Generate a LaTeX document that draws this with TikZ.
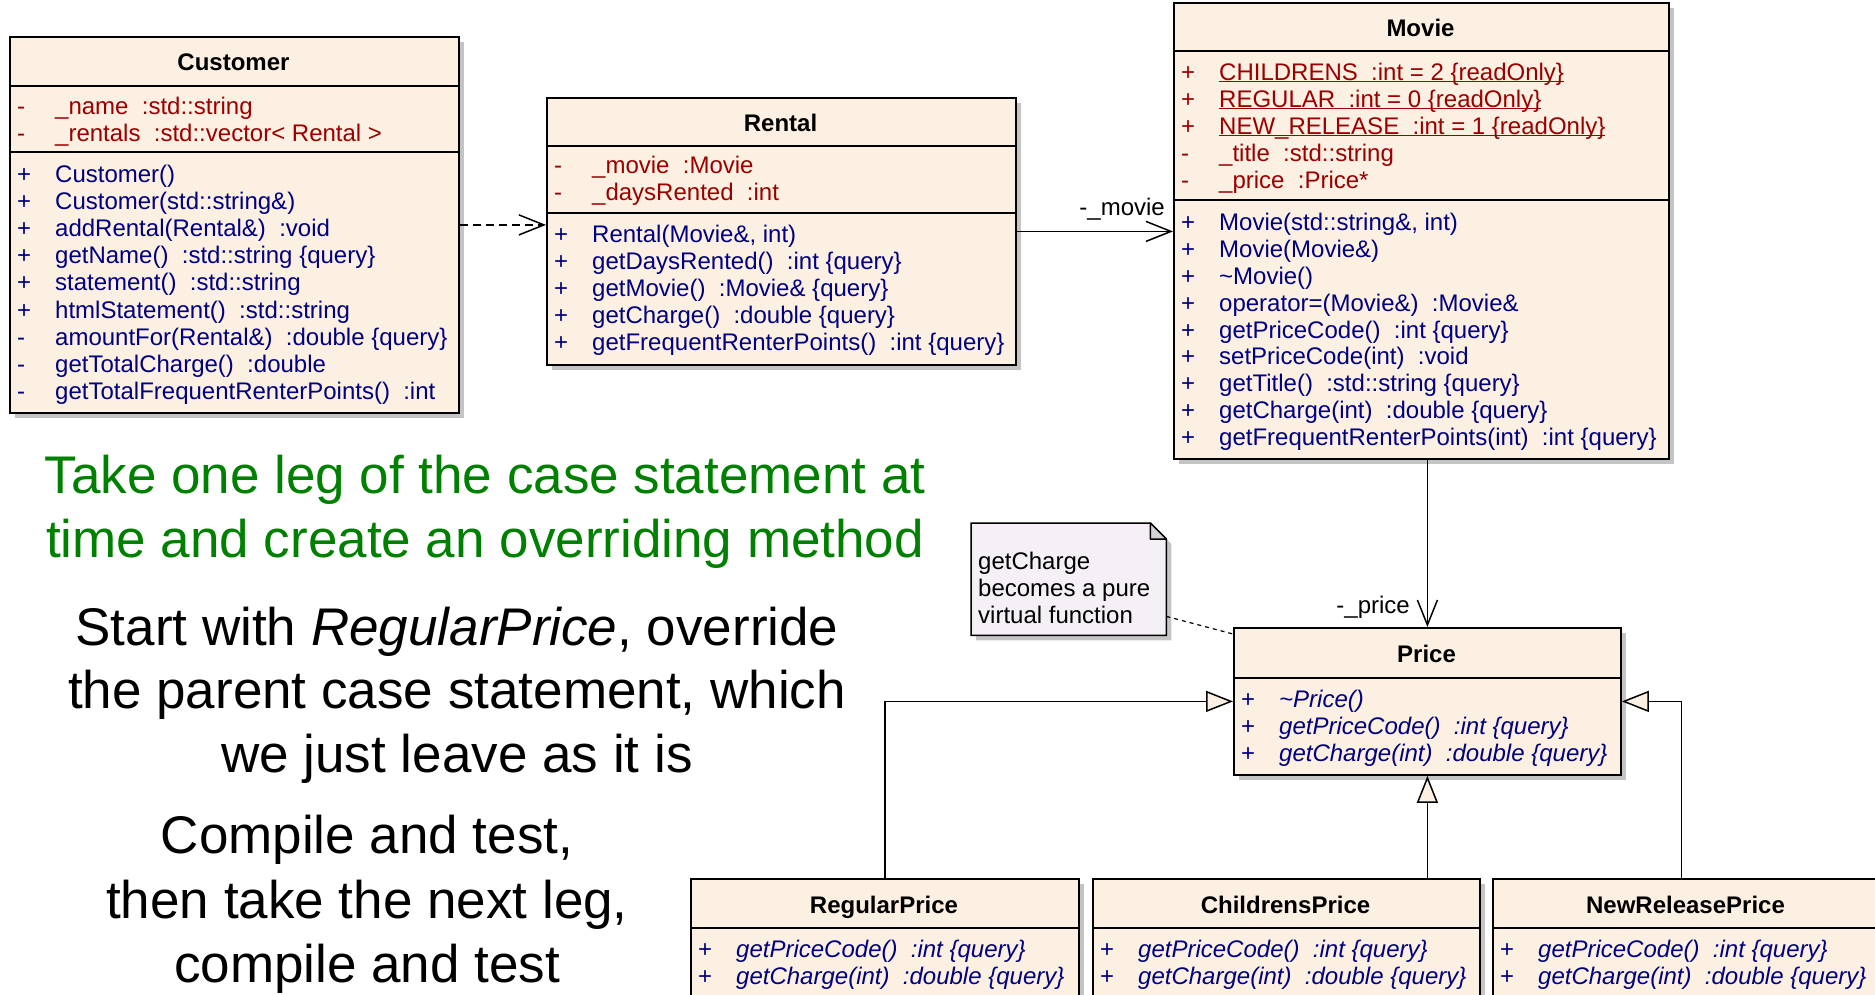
\documentclass[tikz,border=0pt]{standalone}
\usepackage{fontspec}
\setmainfont{Liberation Sans}
\usetikzlibrary{arrows.meta,shadows,calc}

\definecolor{boxfill}{HTML}{FBF0E1}
\definecolor{attrred}{HTML}{9B0000}
\definecolor{opblue}{HTML}{000080}
\definecolor{slidegreen}{HTML}{008000}
\definecolor{shadowgray}{HTML}{C4C4C4}
\definecolor{notefill}{HTML}{F5F0F5}
\definecolor{foldgray}{HTML}{D2CFD6}

\tikzset{
  umlbox/.style={draw=black, line width=1.8pt, fill=boxfill, inner sep=0pt,
    anchor=north west,
    drop shadow={shadow xshift=5pt, shadow yshift=-5pt, fill=shadowgray, opacity=1}},
  compsep/.style={line width=1.8pt},
  rowtext/.style={anchor=base west, inner sep=0pt, font=\fontsize{24}{27}\selectfont},
  attr/.style={rowtext, text=attrred},
  oper/.style={rowtext, text=opblue},
  ctitle/.style={anchor=base, inner sep=0pt, font=\fontsize{24}{27}\selectfont\bfseries},
  lbl/.style={anchor=base east, inner sep=0pt, font=\fontsize{24}{27}\selectfont},
  notetext/.style={anchor=base west, inner sep=0pt, font=\fontsize{24}{27}\selectfont},
  bigtext/.style={anchor=base, inner sep=0pt, font=\fontsize{53}{64}\selectfont},
  link/.style={line width=1.5pt},
  assoc/.style={link, -{Straight Barb[length=25pt,width=20pt]}},
  depend/.style={link, dash pattern=on 8pt off 5pt, -{Straight Barb[length=25pt,width=20pt]}},
  inherit/.style={link, -{Triangle[length=27pt,width=21pt,fill=boxfill]}},
  notelink/.style={line width=1.2pt, dash pattern=on 4pt off 4pt},
}

% one compartment row: style, name, box left, baseline, visibility, member
\newcommand\umlrow[6]{%
  \node[#1] (#2s) at ({#3+8},#4) {#5};
  \node[#1] (#2) at ({#3+46},#4) {#6};}

\begin{document}
\begin{tikzpicture}[x=1pt,y=-1pt]
\useasboundingbox (0,0) rectangle (1875,994);
\fill[white] (0,0) rectangle (1875,994);
\clip (0,0) rectangle (1875,994);

% ---------------- Customer ----------------
\node[umlbox, minimum width=449pt, minimum height=376pt] (customer) at (9,36) {};
\draw[compsep] ([yshift=-50pt]customer.north west) -- ([yshift=-50pt]customer.north east);
\draw[compsep] ([yshift=-116pt]customer.north west) -- ([yshift=-116pt]customer.north east);
\node[ctitle] (customer-t) at (233.5,70) {Customer};
\umlrow{attr}{cu-a1}{9}{114}{-}{\_name~~:std::string}
\umlrow{attr}{cu-a2}{9}{141}{-}{\_rentals~~:std::vector< Rental >}
\umlrow{oper}{cu-o1}{9}{182}{+}{Customer()}
\umlrow{oper}{cu-o2}{9}{209}{+}{Customer(std::string\&)}
\umlrow{oper}{cu-o3}{9}{236}{+}{addRental(Rental\&)~~:void}
\umlrow{oper}{cu-o4}{9}{263}{+}{getName()~~:std::string \{query\}}
\umlrow{oper}{cu-o5}{9}{290}{+}{statement()~~:std::string}
\umlrow{oper}{cu-o6}{9}{318}{+}{htmlStatement()~~:std::string}
\umlrow{oper}{cu-o7}{9}{345}{-}{amountFor(Rental\&)~~:double \{query\}}
\umlrow{oper}{cu-o8}{9}{372}{-}{getTotalCharge()~~:double}
\umlrow{oper}{cu-o9}{9}{399}{-}{getTotalFrequentRenterPoints()~~:int}

% ---------------- Rental ----------------
\node[umlbox, minimum width=469pt, minimum height=267pt] (rental) at (546,97) {};
\draw[compsep] ([yshift=-49pt]rental.north west) -- ([yshift=-49pt]rental.north east);
\draw[compsep] ([yshift=-116pt]rental.north west) -- ([yshift=-116pt]rental.north east);
\node[ctitle] (rental-t) at (780.5,131) {Rental};
\umlrow{attr}{re-a1}{546}{173}{-}{\_movie~~:Movie}
\umlrow{attr}{re-a2}{546}{200}{-}{\_daysRented~~:int}
\umlrow{oper}{re-o1}{546}{242}{+}{Rental(Movie\&, int)}
\umlrow{oper}{re-o2}{546}{269}{+}{getDaysRented()~~:int \{query\}}
\umlrow{oper}{re-o3}{546}{296}{+}{getMovie()~~:Movie\& \{query\}}
\umlrow{oper}{re-o4}{546}{323}{+}{getCharge()~~:double \{query\}}
\umlrow{oper}{re-o5}{546}{350}{+}{getFrequentRenterPoints()~~:int \{query\}}

% ---------------- Movie ----------------
\node[umlbox, minimum width=495pt, minimum height=456pt] (movie) at (1173,2) {};
\draw[compsep] ([yshift=-49pt]movie.north west) -- ([yshift=-49pt]movie.north east);
\draw[compsep] ([yshift=-198pt]movie.north west) -- ([yshift=-198pt]movie.north east);
\node[ctitle] (movie-t) at (1420.5,36) {Movie};
\umlrow{attr}{mo-a1}{1173}{80}{+}{\underline{\smash{CHILDRENS~~:int = 2 \{readOnly\}}}}
\umlrow{attr}{mo-a2}{1173}{107}{+}{\underline{\smash{REGULAR~~:int = 0 \{readOnly\}}}}
\umlrow{attr}{mo-a3}{1173}{134}{+}{\underline{\smash{NEW\_RELEASE~~:int = 1 \{readOnly\}}}}
\umlrow{attr}{mo-a4}{1173}{161}{-}{\_title~~:std::string}
\umlrow{attr}{mo-a5}{1173}{188}{-}{\_price~~:Price*}
\umlrow{oper}{mo-o1}{1173}{230}{+}{Movie(std::string\&, int)}
\umlrow{oper}{mo-o2}{1173}{257}{+}{Movie(Movie\&)}
\umlrow{oper}{mo-o3}{1173}{284}{+}{\textasciitilde Movie()}
\umlrow{oper}{mo-o4}{1173}{311}{+}{operator=(Movie\&)~~:Movie\&}
\umlrow{oper}{mo-o5}{1173}{338}{+}{getPriceCode()~~:int \{query\}}
\umlrow{oper}{mo-o6}{1173}{364}{+}{setPriceCode(int)~~:void}
\umlrow{oper}{mo-o7}{1173}{391}{+}{getTitle()~~:std::string \{query\}}
\umlrow{oper}{mo-o8}{1173}{418}{+}{getCharge(int)~~:double \{query\}}
\umlrow{oper}{mo-o9}{1173}{445}{+}{getFrequentRenterPoints(int)~~:int \{query\}}

% ---------------- Price ----------------
\node[umlbox, minimum width=387pt, minimum height=147pt] (price) at (1233,627) {};
\draw[compsep] ([yshift=-51pt]price.north west) -- ([yshift=-51pt]price.north east);
\node[ctitle] (price-t) at (1426.5,662) {Price};
\umlrow{oper}{pr-o1}{1233}{707}{+}{\itshape \textasciitilde Price()}
\umlrow{oper}{pr-o2}{1233}{734}{+}{\itshape getPriceCode()~~:int \{query\}}
\umlrow{oper}{pr-o3}{1233}{761}{+}{\itshape getCharge(int)~~:double \{query\}}

% ---------------- Subclasses ----------------
\node[umlbox, minimum width=388pt, minimum height=130pt] (regular) at (690,878) {};
\draw[compsep] ([yshift=-50pt]regular.north west) -- ([yshift=-50pt]regular.north east);
\node[ctitle] (regular-t) at (884,913) {RegularPrice};
\umlrow{oper}{rp-o1}{690}{957}{+}{\itshape getPriceCode()~~:int \{query\}}
\umlrow{oper}{rp-o2}{690}{984}{+}{\itshape getCharge(int)~~:double \{query\}}

\node[umlbox, minimum width=387pt, minimum height=130pt] (childrens) at (1092,878) {};
\draw[compsep] ([yshift=-50pt]childrens.north west) -- ([yshift=-50pt]childrens.north east);
\node[ctitle] (childrens-t) at (1285.5,913) {ChildrensPrice};
\umlrow{oper}{cp-o1}{1092}{957}{+}{\itshape getPriceCode()~~:int \{query\}}
\umlrow{oper}{cp-o2}{1092}{984}{+}{\itshape getCharge(int)~~:double \{query\}}

\node[umlbox, minimum width=387pt, minimum height=130pt] (newrel) at (1492,878) {};
\draw[compsep] ([yshift=-50pt]newrel.north west) -- ([yshift=-50pt]newrel.north east);
\node[ctitle] (newrel-t) at (1685.5,913) {NewReleasePrice};
\umlrow{oper}{np-o1}{1492}{957}{+}{\itshape getPriceCode()~~:int \{query\}}
\umlrow{oper}{np-o2}{1492}{984}{+}{\itshape getCharge(int)~~:double \{query\}}

% ---------------- Note ----------------
\node[minimum width=195pt, minimum height=112pt, inner sep=0pt, anchor=north west] (note) at (971,523) {};
\fill[shadowgray] ($(note.north west)+(5,5)$) -- ($(note.north east)+(-11,5)$) -- ($(note.north east)+(5,21)$)
  -- ($(note.south east)+(5,5)$) -- ($(note.south west)+(5,5)$) -- cycle;
\filldraw[fill=notefill, draw=black, line width=1.5pt] (note.north west) -- ($(note.north east)+(-16,0)$)
  -- ($(note.north east)+(0,16)$) -- (note.south east) -- (note.south west) -- cycle;
\filldraw[fill=foldgray, draw=black, line width=1.5pt, line join=round] ($(note.north east)+(-16,0)$)
  -- ($(note.north east)+(-16,16)$) -- ($(note.north east)+(0,16)$) -- cycle;
\node[notetext] (note-l1) at (978,569) {getCharge};
\node[notetext] (note-l2) at (978,596) {becomes a pure};
\node[notetext] (note-l3) at (978,623) {virtual function};

% ---------------- Connectors ----------------
\draw[depend] (customer.east) -- (customer.east -| rental.west);
\draw[assoc] (rental.east) -- (rental.east -| movie.west);
\node[lbl] (movie-role) at (1165,215) {-\_movie};
\draw[assoc] (price.north |- movie.south) -- (price.north);
\node[lbl] (price-role) at (1410,613) {-\_price};
\draw[notelink] ($(note.south east)+(0,-19)$) -- ($(price.north west)+(0,7)$);
\draw[inherit] (regular.north) |- (price.west);
\draw[inherit] (price.south |- childrens.north) -- (price.south);
\draw[inherit] ([xshift=-5pt]newrel.north) |- (price.east);

% ---------------- Slide text ----------------
\node[bigtext, text=slidegreen] (g1) at (485,493) {Take one leg of the case statement at};
\node[bigtext, text=slidegreen] (g2) at (485,557) {time and create an overriding method};
\node[bigtext] (s1) at (457,645) {Start with \textit{RegularPrice}, override};
\node[bigtext] (s2) at (457,708) {the parent case statement, which};
\node[bigtext] (s3) at (457,772) {we just leave as it is};
\node[bigtext] (c1) at (367,853) {Compile and test,};
\node[bigtext] (c2) at (367,918) {then take the next leg,};
\node[bigtext] (c3) at (367,982) {compile and test};
\end{tikzpicture}
\end{document}
